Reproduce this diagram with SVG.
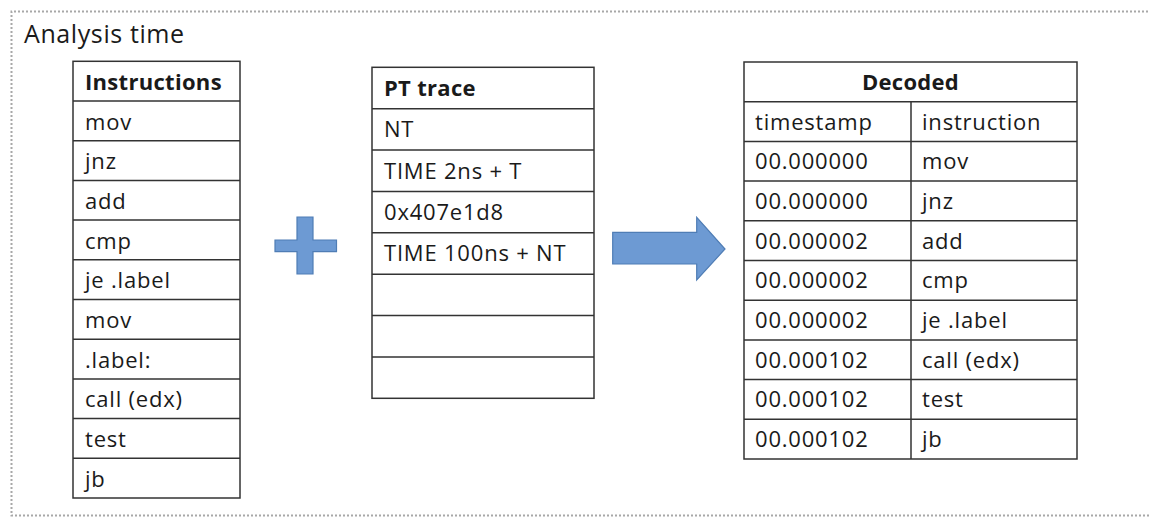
<svg xmlns="http://www.w3.org/2000/svg" width="1150" height="518" viewBox="0 0 1150 518">
<style>
.frame{fill:none;stroke:#a8a8a8;stroke-width:2;stroke-dasharray:2 2}
.cell{fill:#fff;stroke:#333;stroke-width:1.5}
.ln{stroke:#333;stroke-width:1.5}
text{font-family:"Open Sans","Noto Sans","DejaVu Sans",sans-serif;font-size:22px;letter-spacing:0.8px;fill:#1a1a1a}
.h{font-weight:bold;letter-spacing:0.3px}
.title{font-size:25px;letter-spacing:0.6px}
.shape{fill:#6d9ad3;stroke:#4f7db5;stroke-width:1.2}
</style>
<rect width="1150" height="518" fill="#fff"/>
<path class="frame" d="M1152 11.5 H11.5 V515.5 H1152"/>
<text class="title" x="24" y="43">Analysis time</text>

<g id="instructions">
<rect class="cell" x="73" y="61.3" width="167" height="436.7"/>
<path class="ln" d="M73 101H240M73 140.7H240M73 180.4H240M73 220.1H240M73 259.8H240M73 299.5H240M73 339.2H240M73 378.9H240M73 418.6H240M73 458.3H240"/>
<text class="h" x="85" y="90">Instructions</text>
<text x="85" y="130">mov</text>
<text x="85" y="169">jnz</text>
<text x="85" y="209">add</text>
<text x="85" y="249">cmp</text>
<text x="85" y="288">je .label</text>
<text x="85" y="328">mov</text>
<text x="85" y="368">.label:</text>
<text x="85" y="407">call (edx)</text>
<text x="85" y="447">test</text>
<text x="85" y="487">jb</text>
</g>

<g id="plus">
<path class="shape" d="M297 217H313V240H336.5V251.7H313V274H297V251.7H275V240H297Z"/>
</g>

<g id="pt-trace">
<rect class="cell" x="372" y="67.3" width="222" height="331"/>
<path class="ln" d="M372 108.7H594M372 150H594M372 191.4H594M372 232.8H594M372 274.2H594M372 315.5H594M372 356.9H594"/>
<text class="h" x="384" y="96">PT trace</text>
<text x="384" y="137">NT</text>
<text x="384" y="179">TIME 2ns + T</text>
<text x="384" y="220">0x407e1d8</text>
<text x="384" y="261">TIME 100ns + NT</text>
</g>

<g id="arrow">
<path class="shape" d="M612.7 232.3H696.7V217.3L725 249L696.7 280V264H612.7Z"/>
</g>

<g id="decoded">
<rect class="cell" x="744" y="62" width="333" height="397"/>
<path class="ln" d="M744 101.7H1077M744 141.4H1077M744 181.1H1077M744 220.8H1077M744 260.5H1077M744 300.2H1077M744 339.9H1077M744 379.6H1077M744 419.3H1077M911 101.7V459"/>
<text class="h" x="910.5" y="90" text-anchor="middle">Decoded</text>
<text x="755" y="130">timestamp</text>
<text x="922" y="130">instruction</text>
<text x="755" y="169">00.000000</text><text x="922" y="169">mov</text>
<text x="755" y="209">00.000000</text><text x="922" y="209">jnz</text>
<text x="755" y="249">00.000002</text><text x="922" y="249">add</text>
<text x="755" y="288">00.000002</text><text x="922" y="288">cmp</text>
<text x="755" y="328">00.000002</text><text x="922" y="328">je .label</text>
<text x="755" y="368">00.000102</text><text x="922" y="368">call (edx)</text>
<text x="755" y="407">00.000102</text><text x="922" y="407">test</text>
<text x="755" y="447">00.000102</text><text x="922" y="447">jb</text>
</g>
</svg>
